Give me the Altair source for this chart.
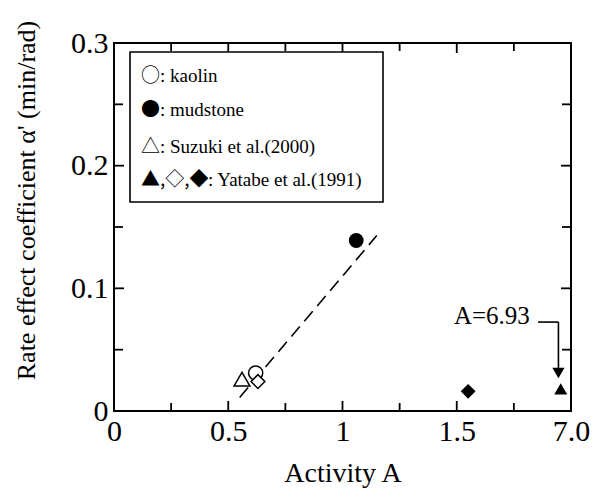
import altair as alt
import pandas as pd

# ---------------- data ----------------
point_keys = ["kaolin", "mudstone", "Suzuki", "Yatabe_odiamond", "Yatabe_diamond", "Yatabe_tri"]
activity = [0.62, 1.06, 0.56, 0.63, 1.55, 1.955]
alpha_rate = [0.031, 0.139, 0.026, 0.024, 0.016, 0.018]

fit_activity = [0.55, 1.15]
fit_alpha = [0.011, 0.143]

x_major = [0, 0.5, 1, 1.5, 2]
x_minor = [0.25, 0.75, 1.25, 1.75]
y_major = [0, 0.1, 0.2, 0.3]
y_minor = [0.05, 0.15, 0.25]

legend_symbols = ["○", "●", "△", "▲,◇,◆"]
legend_labels = [": kaolin", ": mudstone", ": Suzuki et al.(2000)", ": Yatabe et al.(1991)"]

annot_text = ["A=6.93"]
annot_text_pos = [1.82, 0.0774]
annot_leader_x = [1.856, 1.945]
annot_leader_y = [0.0725, 0.034]
annot_head = [1.945, 0.031]

# ---------------- layout ----------------
W, H = 457, 368
SERIF = "Liberation Serif"
SYM = "Noto Sans CJK JP"

pts = pd.DataFrame({"key": point_keys, "A": activity, "a": alpha_rate})
fit = pd.DataFrame({"A": fit_activity, "a": fit_alpha})

xs = alt.Scale(domain=[0, 2], nice=False, zero=False)
ys = alt.Scale(domain=[0, 0.3], nice=False, zero=False)

x_axis = alt.Axis(values=x_major, format="~g",
                  labelExpr="datum.value >= 2 ? '7.0' : datum.label",
                  ticks=False, tickSize=0, domain=False, grid=False,
                  labelFont=SERIF, labelFontSize=30, labelColor="black",
                  labelPadding=5, labelFlush=False, labelOverlap=False,
                  title="Activity A", titleFont=SERIF, titleFontSize=28,
                  titleFontWeight="normal", titleColor="black",
                  titleY=70, titleBaseline="alphabetic")
y_axis = alt.Axis(values=y_major, format="~g",
                  ticks=False, tickSize=0, domain=False, grid=False,
                  labelFont=SERIF, labelFontSize=30, labelColor="black",
                  labelPadding=6, labelFlush=False, labelOverlap=False,
                  title="Rate effect coefficient  α' (min/rad)",
                  titleFont=SERIF, titleFontSize=26, titleFontWeight="normal",
                  titleColor="black", titleAngle=270, titleAlign="center",
                  titleBaseline="middle", titleX=-88, titleY=157)

def X(field):
    return alt.X(field, scale=xs, axis=x_axis)

def Y(field):
    return alt.Y(field, scale=ys, axis=y_axis)

line = alt.Chart(fit).mark_line(color="black", strokeWidth=1.6, strokeDash=[13, 7]).encode(
    x=X("A:Q"), y=Y("a:Q"))

def pt(key, shape, size, filled):
    return alt.Chart(pts).transform_filter(alt.datum.key == key).mark_point(
        shape=shape, size=size, filled=True,
        fill="black" if filled else "white",
        stroke="black", strokeWidth=0 if filled else 1.5, opacity=1,
    ).encode(x=X("A:Q"), y=Y("a:Q"))

points = [
    pt("Suzuki", "triangle-up", 250, False),
    pt("kaolin", "circle", 200, False),
    pt("Yatabe_odiamond", "diamond", 190, False),
    pt("mudstone", "circle", 220, True),
    pt("Yatabe_diamond", "diamond", 220, True),
    pt("Yatabe_tri", "triangle-up", 170, True),
]

# inward ticks on all four sides
def tick_layer(vals, orient, length):
    df = pd.DataFrame({"A": vals, "a": vals})
    c = alt.Chart(df).mark_rule(color="black", strokeWidth=1.8)
    if orient == "bottom":
        return c.encode(x=X("A:Q"), y=alt.value(H), y2=alt.value(H - length))
    if orient == "top":
        return c.encode(x=X("A:Q"), y=alt.value(0), y2=alt.value(length))
    if orient == "left":
        return c.encode(y=Y("a:Q"), x=alt.value(0), x2=alt.value(length))
    return c.encode(y=Y("a:Q"), x=alt.value(W), x2=alt.value(W - length))

ticks = []
for o in ["bottom", "top"]:
    ticks.append(tick_layer(x_major, o, 10))
    ticks.append(tick_layer(x_minor, o, 8))
for o in ["left", "right"]:
    ticks.append(tick_layer(y_major, o, 10))
    ticks.append(tick_layer(y_minor, o, 9))

# legend box
one = pd.DataFrame({"k": [0]})
box = alt.Chart(one).mark_rect(fill="white", stroke="black", strokeWidth=1.6).encode(
    x=alt.value(16), x2=alt.value(269), y=alt.value(9), y2=alt.value(159))

row_y = [33, 67, 104, 137]
label_x = [46, 46, 46, 94]
legend = []
for i in range(4):
    legend.append(alt.Chart(pd.DataFrame({"t": [legend_symbols[i]]})).mark_text(
        font=SYM, fontSize=19, align="left", baseline="middle", color="black").encode(
        text="t:N", x=alt.value(27), y=alt.value(row_y[i])))
    legend.append(alt.Chart(pd.DataFrame({"t": [legend_labels[i]]})).mark_text(
        font=SERIF, fontSize=19, align="left", baseline="middle", color="black").encode(
        text="t:N", x=alt.value(label_x[i]), y=alt.value(row_y[i])))

# annotation  A=6.93 with leader arrow
ann_txt = alt.Chart(pd.DataFrame({"t": annot_text, "A": [annot_text_pos[0]], "a": [annot_text_pos[1]]})).mark_text(
    font=SERIF, fontSize=25, align="right", baseline="middle", color="black").encode(
    text="t:N", x=X("A:Q"), y=Y("a:Q"))
lead_h = alt.Chart(pd.DataFrame({"A": [annot_leader_x[0]], "A2": [annot_leader_x[1]], "a": [annot_leader_y[0]]})).mark_rule(
    color="black", strokeWidth=1.6).encode(x=X("A:Q"), x2="A2:Q", y=Y("a:Q"))
lead_v = alt.Chart(pd.DataFrame({"A": [annot_leader_x[1]], "a": [annot_leader_y[0]], "a2": [annot_leader_y[1]]})).mark_rule(
    color="black", strokeWidth=1.6).encode(x=X("A:Q"), y=Y("a:Q"), y2="a2:Q")
head = alt.Chart(pd.DataFrame({"A": [annot_head[0]], "a": [annot_head[1]]})).mark_point(
    shape="triangle-down", size=150, filled=True, fill="black", strokeWidth=0, opacity=1).encode(
    x=X("A:Q"), y=Y("a:Q"))

chart = alt.layer(line, *ticks, box, *legend, *points, ann_txt, lead_h, lead_v, head).properties(
    width=W, height=H,
    padding={"left": 106, "top": 35, "right": 20, "bottom": 77},
    autosize=alt.AutoSizeParams(type="none"),
    background="white",
).configure_view(stroke="black", strokeWidth=2)

chart.save("out.html", embed_options={"renderer": "svg", "actions": False})
